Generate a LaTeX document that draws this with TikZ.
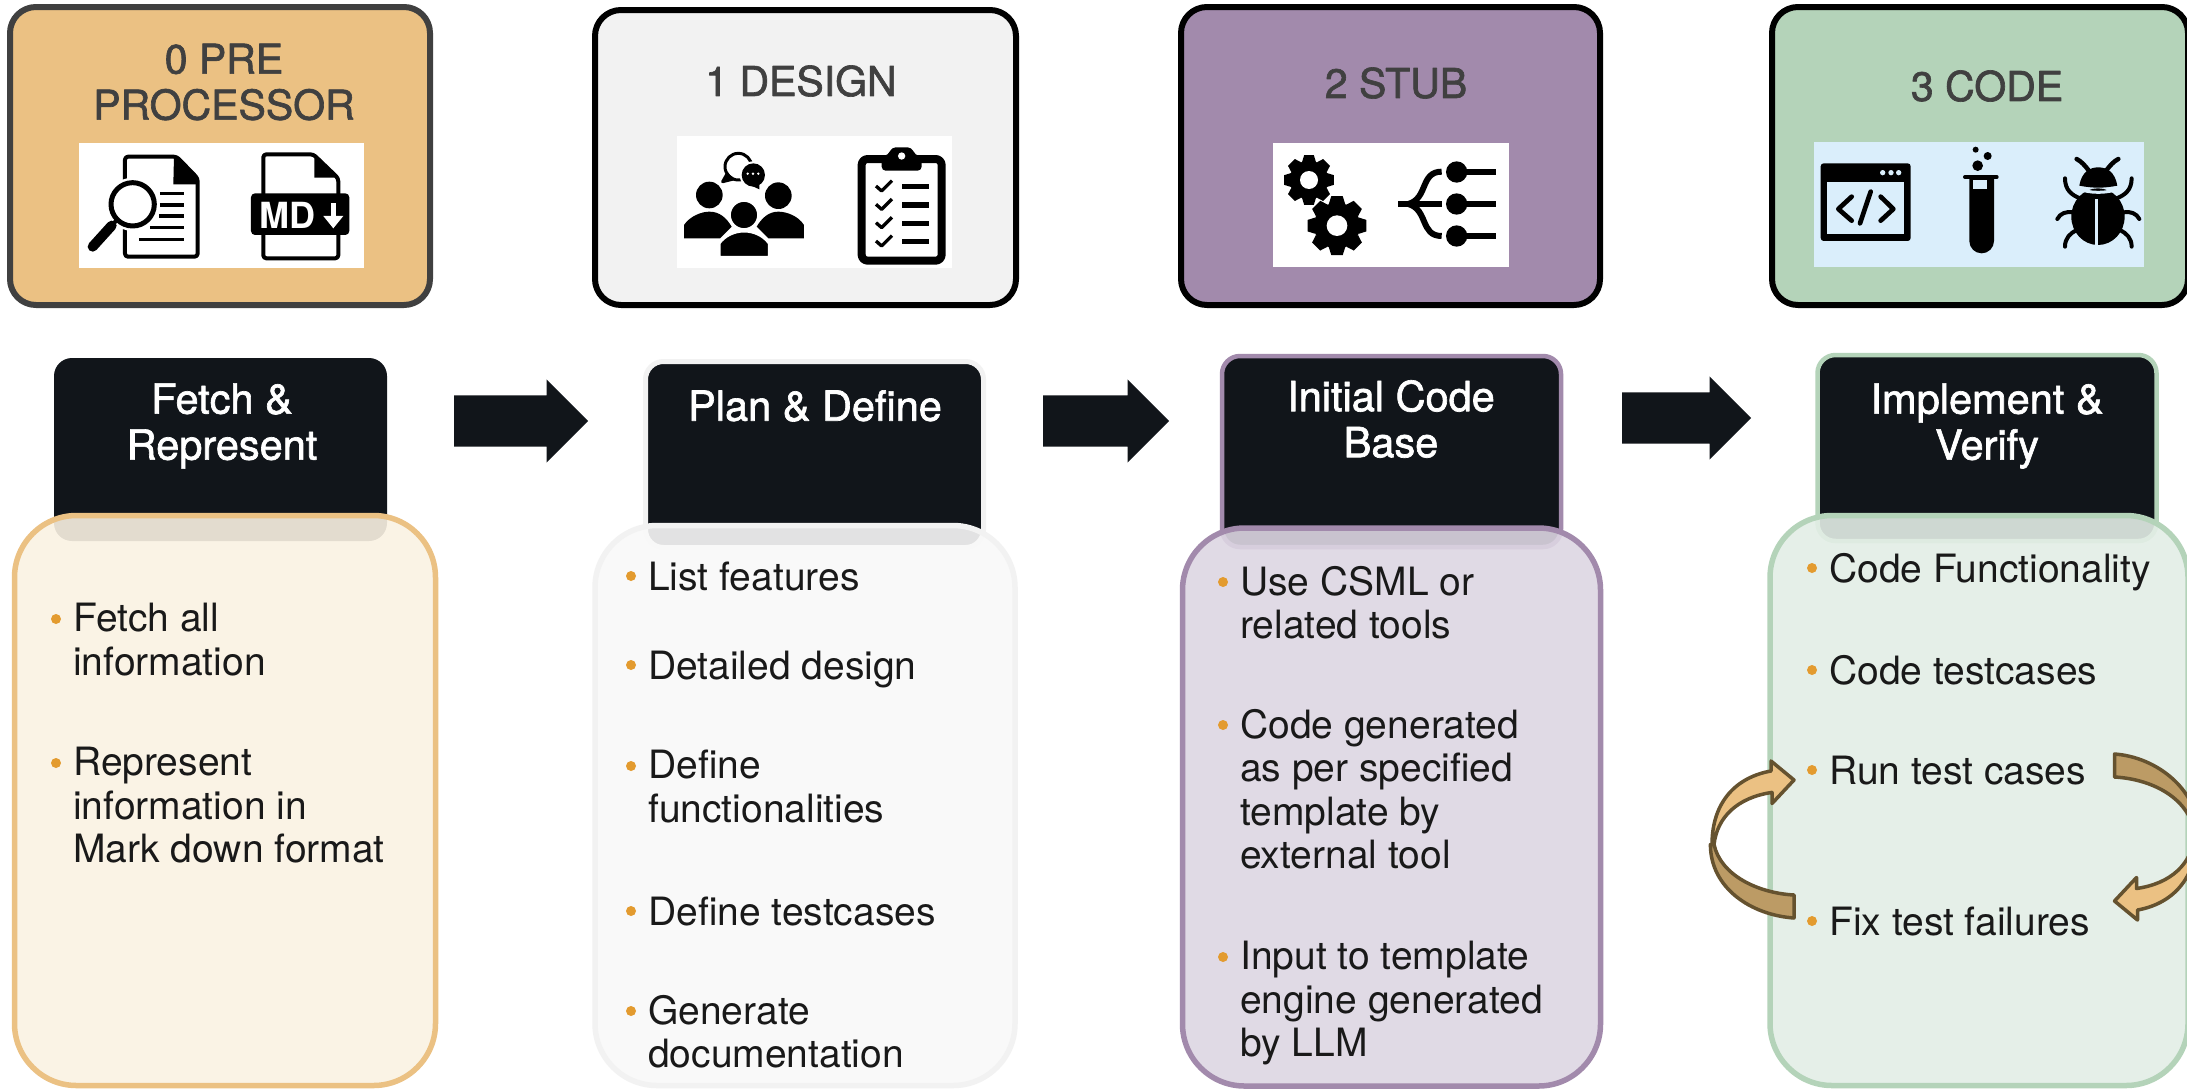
\documentclass[tikz,border=0pt]{standalone}
\usepackage{fontspec}
\setmainfont{TeX Gyre Heros}
\newfontfamily\medfont[FakeBold=1.6]{TeX Gyre Heros}
\usetikzlibrary{shapes.arrows}
\definecolor{cdark}{HTML}{11151A}
\definecolor{ctitle}{HTML}{404040}
\definecolor{corange}{HTML}{EBC183}
\definecolor{cgray}{HTML}{F2F2F2}
\definecolor{cpurple}{HTML}{A28AAC}
\definecolor{cgreen}{HTML}{B4D3B9}
\definecolor{ccream}{HTML}{FAF2E3}
\definecolor{cpale}{HTML}{F9F9F9}
\definecolor{clilac}{HTML}{DDD6E3}
\definecolor{cmint}{HTML}{E3EEE6}
\definecolor{csky}{HTML}{DAEEFB}
\definecolor{cbullet}{HTML}{E39B2F}
\definecolor{cloopline}{HTML}{65522F}
\definecolor{cloopback}{HTML}{BC9B65}
\tikzset{
	stagebox/.style={draw,line width=6pt,rounded corners=26pt,inner sep=0pt,minimum height=298pt},
	titletext/.style={text=ctitle,align=center,font=\medfont\fontsize{41}{46}\selectfont},
	headbox/.style={fill=cdark,rounded corners=18pt,inner sep=0pt},
	headtext/.style={text=white,align=center,font=\medfont\fontsize{41.5}{46}\selectfont},
	bodybox/.style={draw,line width=5.5pt,fill opacity=.9,rounded corners=62pt,inner sep=0pt},
	itemtext/.style={anchor=north west,align=left,inner sep=0pt,text=black!90,font=\fontsize{39}{43.5}\selectfont,execute at begin node=\strut},
	bulletdot/.style={circle,fill=cbullet,inner sep=0pt,minimum size=10pt},
	flowarrow/.style={single arrow,fill=cdark,anchor=tail,inner sep=0pt,text height=51pt,text depth=0pt,single arrow head extend=16pt,single arrow tip angle=90},
	loopfront/.style={draw=cloopline,fill=corange,line width=3.5pt,line join=round},
	loopback/.style={draw=cloopline,fill=cloopback,line width=3.5pt,line join=round},
	icon/.style={x=.3333pt,y=-.3333pt}
}
\newcommand{\gearicon}[4]{%
	\fill (#1) circle (#3);
	\foreach \a in {0,45,...,315}
	\fill[shift={(#1)}] (\a-11:#2)--(\a+11:#2)--(\a+21:#3)--(\a-21:#3)--cycle;
	\fill[white] (#1) circle (#4);
}
\begin{document}
\begin{tikzpicture}[x=1pt,y=-1pt,line join=round]
	\path[use as bounding box,fill=white] (0,0) rectangle (2187,1088);
	%stage boxes
	\node[stagebox,fill=corange,draw=ctitle,minimum width=420pt] (stage0) at (220,156) {};
	\node[stagebox,fill=cgray,draw=black,minimum width=421pt,minimum height=295pt] (stage1) at (805.5,157.5) {};
	\node[stagebox,fill=cpurple,draw=black,minimum width=419pt] (stage2) at (1390.5,156) {};
	\node[stagebox,fill=cgreen,draw=black,minimum width=416pt] (stage3) at (1980,156) {};
	\node[titletext] (title0) at (224,82) {0 PRE\\PROCESSOR};
	\node[titletext] (title1) at (801,81) {1 DESIGN};
	\node[titletext] (title2) at (1396,83) {2 STUB};
	\node[titletext] (title3) at (1987,86) {3 CODE};
	%icons of stage 0
	\begin{scope}[shift={(70,135)},icon]
		\fill[white] (27,25) rectangle (883,398);
		\draw[line width=4pt,rounded corners=3pt] (165,65)--(320,65)--(383,130)--(383,365)--(165,365)--cycle;
		\fill (312,65)--(383,130)--(383,148)--(310,148)--cycle;
		\foreach \x/\y in {270/176,270/210,268/243,240/278,207/313}
		\draw[line width=3.3pt] (\x,\y)--(343,\y);
		\fill[white] (188,208) circle (80);
		\draw[line width=5pt,fill=white] (188,208) circle (65);
		\draw[line width=4pt] (125,270)--(145,252);
		\draw[line width=10pt,line cap=round] (68,335)--(125,272);
		\draw[line width=4pt,rounded corners=3pt] (580,58)--(730,58)--(805,130)--(805,370)--(580,370)--cycle;
		\fill (733,58)--(805,128)--(733,128)--cycle;
		\fill[rounded corners=4pt] (543,175) rectangle (838,300);
		\node[inner sep=0pt,text=white,font=\fontsize{36}{36}\bfseries\selectfont] (mdtext) at (654,242) {MD};
		\draw[white,line width=5pt] (790,205)--(790,255);
		\fill[white] (760,243)--(820,243)--(790,280)--cycle;
	\end{scope}
	%icons of stage 1
	\begin{scope}[shift={(670,130)},icon]
		\fill[white] (22,18) rectangle (845,413);
		\draw[line width=3pt] (205,110) circle (40);
		\fill (170,125)--(158,155)--(190,145)--cycle;
		\draw[line width=3pt] (172,130)--(158,155)--(190,147);
		\fill[white] (250,135) circle (41);
		\fill (250,135) circle (35);
		\fill (240,165)--(268,178)--(268,150)--cycle;
		\foreach \x in {233,249,265}
		\fill[white] (\x,131) circle (4);
		\fill (118,195) circle (40) (325,197) circle (40);
		\fill (42,325)--(42,285) .. controls (60,258) and (95,245) .. (118,245) .. controls (150,245) and (170,265) .. (185,290)--(150,325)--cycle;
		\fill (402,325)--(402,285) .. controls (385,258) and (350,245) .. (325,245) .. controls (295,245) and (275,265) .. (260,290)--(295,325)--cycle;
		\draw[white,line width=3pt,fill=black] (222,255) circle (44);
		\draw[white,line width=3pt,fill=black] (147,382)--(147,340) .. controls (165,315) and (195,303) .. (222,303) .. controls (250,303) and (280,315) .. (298,340)--(298,382)--cycle;
		\draw[line width=8pt,rounded corners=6pt] (575,87) rectangle (815,392);
		\fill[rounded corners=4pt] (635,122)--(755,122)--(755,80)--(735,75)--(725,52)--(665,52)--(655,75)--(635,80)--cycle;
		\fill[white] (695,78) circle (11);
		\foreach \y in {0,55,110,165}{
			\draw[line width=3.3pt] (618,168+\y)--(635,183+\y)--(666,152+\y);
			\draw[line width=5.3pt] (697,170+\y)--(777,170+\y);
		}
	\end{scope}
	%icons of stage 2
	\begin{scope}[shift={(1265,135)},icon]
		\fill[white] (24,24) rectangle (732,396);
		\gearicon{132,135}{76}{58}{27}
		\fill[white] (216,272) circle (80);
		\gearicon{216,272}{90}{69}{31}
		\draw[line width=6pt] (400,207)--(530,207);
		\draw[line width=6pt] (430,207) .. controls (490,190) and (465,110) .. (530,110);
		\draw[line width=6pt] (430,207) .. controls (490,224) and (465,303) .. (530,303);
		\foreach \y in {111,207,303}{
			\fill (575,\y) circle (32);
			\draw[line width=6pt] (575,\y)--(692,\y);
		}
	\end{scope}
	%icons of stage 3
	\begin{scope}[shift={(1810,135)},icon]
		\fill[csky] (12,22) rectangle (1003,396);
		\fill[rounded corners=3pt] (32,85) rectangle (302,318);
		\fill[csky] (52,142) rectangle (282,296);
		\foreach \x in {218,243,266}
		\fill[csky] (\x,113) circle (8);
		\draw[line width=4.7pt,line cap=round] (125,185)--(85,222)--(125,257) (182,170)--(150,265) (212,185)--(250,222)--(212,257);
		\draw[line width=4pt,line cap=round] (465,126)--(560,126);
		\fill (478,126)--(552,126)--(552,318) arc (0:180:37)--cycle;
		\fill[csky] (490,135) rectangle (532,162);
		\fill (503,92) circle (16) (533,63) circle (12) (497,44) circle (9);
		\fill (808,152) .. controls (815,110) and (840,97) .. (865,97) .. controls (890,97) and (915,110) .. (922,152) .. controls (880,160) and (850,160) .. cycle;
		\fill (864,245) ellipse (80 and 85);
		\draw[csky,line width=3pt] (800,160) .. controls (840,176) and (890,176) .. (930,160);
		\draw[csky,line width=3pt] (861,192)--(861,332);
		\draw[line width=4.5pt,line cap=round] (800,72) .. controls (815,80) and (825,92) .. (835,105) (925,72) .. controls (910,80) and (900,92) .. (890,105);
		\draw[line width=4pt,line cap=round] (765,130) .. controls (765,165) and (785,180) .. (810,190) (965,130) .. controls (965,165) and (945,180) .. (920,190);
		\draw[line width=4pt,line cap=round] (742,252) .. controls (750,235) and (770,228) .. (790,232) (988,252) .. controls (980,235) and (960,228) .. (940,232);
		\draw[line width=4pt,line cap=round] (765,335) .. controls (765,310) and (780,295) .. (800,285) (965,335) .. controls (965,310) and (950,295) .. (930,285);
	\end{scope}
	%black headers and text panels
	\node[headbox,minimum width=333pt,minimum height=183pt] (head0) at (220.5,449.5) {};
	\node[headbox,draw=cgray,line width=5pt,minimum width=338pt,minimum height=186pt] (head1) at (814.5,454.5) {};
	\node[headbox,draw=cpurple,line width=4.5pt,minimum width=339pt,minimum height=191pt] (head2) at (1391.5,451.5) {};
	\node[headbox,draw=cgreen,line width=4.5pt,minimum width=339pt,minimum height=186pt] (head3) at (1987,448) {};
	\node[headtext] (htext0) at (222,426) {Fetch \&\\Represent};
	\node[headtext] (htext1) at (815,406) {Plan \& Define};
	\node[headtext] (htext2) at (1391,419) {Initial Code\\Base};
	\node[headtext] (htext3) at (1987,426) {Implement \&\\Verify};
	\node[bodybox,fill=ccream,draw=corange,minimum width=421pt,minimum height=570pt] (body0) at (225,800.5) {};
	\node[bodybox,fill=cpale,draw=cgray,minimum width=420pt,minimum height=560pt] (body1) at (805,805.5) {};
	\node[bodybox,fill=clilac,draw=cpurple,minimum width=418pt,minimum height=558pt] (body2) at (1391.5,807) {};
	\node[bodybox,fill=cmint,draw=cgreen,minimum width=418pt,minimum height=570pt] (body3) at (1979,800.5) {};
	%bullets
	\foreach \n/\x/\y/\t in {
		a0/73/619/{Fetch all\\information},
		a1/73/763/{Represent\\information in\\Mark down format},
		b0/648/576/{List features},
		b1/648/665/{Detailed design},
		b2/648/766/{Define\\functionalities},
		b3/648/911/{Define testcases},
		b4/648/1011/{Generate\\documentation},
		c0/1240/582/{Use CSML or\\related tools},
		c1/1240/725/{Code generated\\as per specified\\template by\\external tool},
		c2/1240/957/{Input to template\\engine generated\\by LLM},
		d0/1829/568/{Code Functionality},
		d1/1829/670/{Code testcases},
		d2/1829/770/{Run test cases},
		d3/1829/921/{Fix test failures}}{
		\node[itemtext] (\n) at (\x,\y-16) {\t};
		\node[bulletdot] (dot\n) at (\x-17,\y) {};
	}
	%arrows between the stages
	\node[flowarrow,minimum height=134pt] (flow0) at (454,421) {};
	\node[flowarrow,minimum height=126pt] (flow1) at (1043,421) {};
	\node[flowarrow,minimum height=129pt] (flow2) at (1622,418) {};
	%repeat loops
	\draw[loopback] (1710.4,844.5) .. controls (1710.4,888) and (1751,915) .. (1794,918)--(1794,895) .. controls (1757.5,893) and (1720.5,875) .. (1714,844.5)--cycle;
	\draw[loopfront] (1712,844.5) .. controls (1712,801) and (1737,777) .. (1771,771)--(1771,761)--(1794,780)--(1772,803.5)--(1772,792.4) .. controls (1737,797.5) and (1717,817.6) .. (1714,844.5)--cycle;
	\draw[loopback] (2198,832) .. controls (2198,790) and (2157,757) .. (2114.5,754)--(2114.5,777) .. controls (2151,779) and (2188,797) .. (2194.5,832)--cycle;
	\draw[loopfront] (2196.4,836.5) .. controls (2196.5,880) and (2171,904) .. (2137.5,910)--(2137.5,920)--(2114.5,901)--(2136.5,877.5)--(2136.5,888.5) .. controls (2171.5,883.5) and (2191.5,863.5) .. (2194.5,836.5)--cycle;
\end{tikzpicture}
\end{document}
